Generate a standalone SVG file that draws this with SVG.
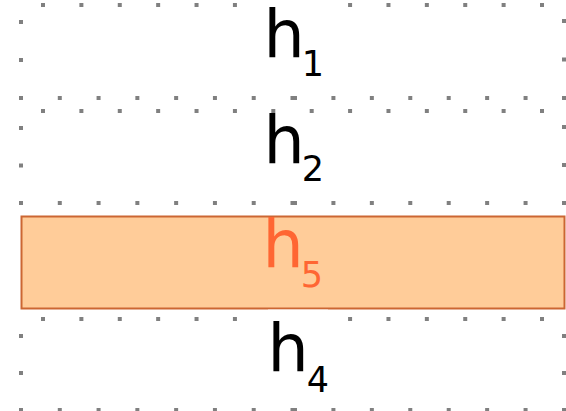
<svg xmlns="http://www.w3.org/2000/svg" width="566" height="411" viewBox="0 0 566 411">
<style>
.dot{stroke:#808080;stroke-width:4;stroke-linecap:square;fill:none}
.lbl{font-family:"DejaVu Sans","Noto Sans",sans-serif;fill:#000}
.big{font-size:65px}
.sub{font-size:35px}
.hl{fill:#ff6633}
.bg{fill:#fff}
</style>
<rect width="566" height="411" fill="#fff"/>
<g id="box-h1">
<line class="dot" x1="43" y1="5" x2="543" y2="5" stroke-dasharray="0 38.385"/>
<line class="dot" x1="21" y1="98" x2="293" y2="98" stroke-dasharray="0 38.786"/>
<line class="dot" x1="564" y1="98" x2="294.5" y2="98" stroke-dasharray="0 38.43"/>
<line class="dot" x1="21" y1="22" x2="21" y2="98.5" stroke-dasharray="0 38"/>
<line class="dot" x1="564" y1="21" x2="564" y2="98.5" stroke-dasharray="0 38.5"/>
<rect class="bg" x="268" y="0" width="60" height="84"/>
<text class="lbl" x="263.5" y="57"><tspan class="big">h</tspan><tspan class="sub" dx="-3" dy="19">1</tspan></text>
</g>
<g id="box-h2">
<line class="dot" x1="43" y1="111" x2="543" y2="111" stroke-dasharray="0 38.385"/>
<line class="dot" x1="21" y1="203" x2="293" y2="203" stroke-dasharray="0 38.786"/>
<line class="dot" x1="564" y1="203" x2="294.5" y2="203" stroke-dasharray="0 38.43"/>
<line class="dot" x1="21" y1="128" x2="21" y2="203.5" stroke-dasharray="0 37.5"/>
<line class="dot" x1="564" y1="127" x2="564" y2="203.5" stroke-dasharray="0 38"/>
<text class="lbl" x="263.5" y="163"><tspan class="big">h</tspan><tspan class="sub" dx="-3" dy="18">2</tspan></text>
</g>
<g id="box-h5">
<rect x="21.5" y="216.5" width="543" height="92" fill="#ffcc99" stroke="#cc6633" stroke-width="2"/>
<text class="lbl hl" x="262.5" y="267"><tspan class="big">h</tspan><tspan class="sub" dx="-3" dy="20">5</tspan></text>
</g>
<g id="box-h4">
<line class="dot" x1="43" y1="319" x2="543" y2="319" stroke-dasharray="0 38.385"/>
<line class="dot" x1="21" y1="410" x2="293" y2="410" stroke-dasharray="0 38.786"/>
<line class="dot" x1="564" y1="410" x2="294.5" y2="410" stroke-dasharray="0 38.43"/>
<line class="dot" x1="21" y1="336" x2="21" y2="410.5" stroke-dasharray="0 37"/>
<line class="dot" x1="564" y1="336" x2="564" y2="410.5" stroke-dasharray="0 37"/>
<rect class="bg" x="268" y="309.6" width="60" height="88"/>
<text class="lbl" x="267.5" y="371"><tspan class="big">h</tspan><tspan class="sub" dx="-2" dy="21">4</tspan></text>
</g>
<g id="connectors"></g>
</svg>
